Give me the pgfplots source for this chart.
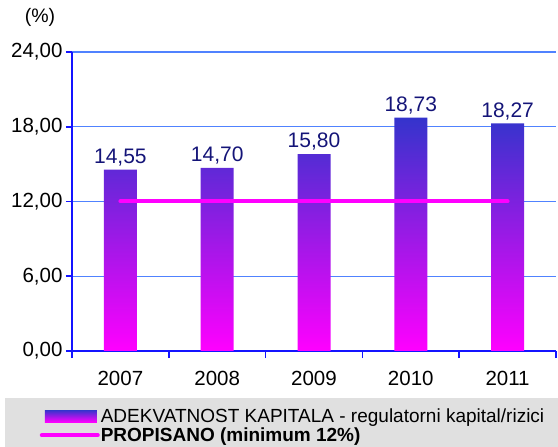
\documentclass[border=0pt]{standalone}
\usepackage{fontspec}
\setmainfont{Liberation Sans}
\usepackage{pgfplots}
\pgfplotsset{compat=1.18}
\definecolor{barblue}{RGB}{52,52,204}
\definecolor{mag}{RGB}{255,0,255}
\definecolor{axblue}{RGB}{20,20,255}
\definecolor{gridblue}{RGB}{80,130,255}
\definecolor{lblnavy}{RGB}{20,20,120}
\definecolor{legbg}{RGB}{224,224,224}
\begin{document}
\begin{tikzpicture}
\useasboundingbox (0,0) rectangle (558bp,447bp);
\fill[legbg] (5bp,0bp) rectangle (560bp,49bp);
\begin{axis}[
  at={(72bp,96bp)}, anchor=south west,
  scale only axis, width=484bp, height=299bp,
  xmin=-0.5, xmax=4.5, ymin=0, ymax=24,
  axis lines*=left,
  axis line style={axblue, line width=1.6bp},
  xtick={0,1,2,3,4},
  xticklabels={2007,2008,2009,2010,2011},
  minor xtick={-0.5,0.5,1.5,2.5,3.5,4.5},
  major x tick style={draw=none},
  minor tick length=7bp,
  major tick length=6bp,
  tick align=outside,
  tick style={axblue, line width=1.6bp},
  ytick={0,6,12,18,24},
  ymajorgrids,
  grid style={gridblue, line width=1.2bp},
  /pgf/number format/assume math mode=true,
  yticklabel style={/pgf/number format/.cd, fixed, fixed zerofill, precision=2, use comma},
  tick label style={font=\fontsize{20.5bp}{22bp}\selectfont, black},
  xticklabel style={yshift=-11bp},
  ylabel={(\%)},
  ylabel style={rotate=-90, at={(axis description cs:-0.066,1.114)}, anchor=center, font=\fontsize{19.5bp}{20bp}\selectfont},
  legend style={at={(axis description cs:-0.067,-0.188)}, anchor=north west, draw=none, fill=none,
    font=\fontsize{19bp}{20bp}\selectfont, inner sep=0pt, row sep=2bp,
    nodes={inner xsep=1bp, inner ysep=1bp}},
  legend cell align=left,
]
\addplot[ybar, bar width=33bp, draw=none, top color=barblue, bottom color=mag,
  nodes near coords,
  nodes near coords style={lblnavy, font=\fontsize{21bp}{22bp}\selectfont,
    /pgf/number format/.cd, fixed, fixed zerofill, precision=2, use comma, assume math mode=true},
  legend image code/.code={\fill[top color=barblue, bottom color=mag] (3bp,-6bp) rectangle (55bp,6bp);}
] coordinates {(0,14.55) (1,14.70) (2,15.80) (3,18.73) (4,18.27)};
\addlegendentry{ADEKVATNOST KAPITALA - regulatorni kapital/rizici}
\addplot[mag, line width=4bp, line cap=round, mark=none,
  legend image code/.code={\draw[mag, line width=4bp, line cap=round] (0bp,0bp) -- (56bp,0bp);}
] coordinates {(0,12) (4,12)};
\addlegendentry{\textbf{PROPISANO (minimum 12\%)}}
\end{axis}
\end{tikzpicture}
\end{document}
